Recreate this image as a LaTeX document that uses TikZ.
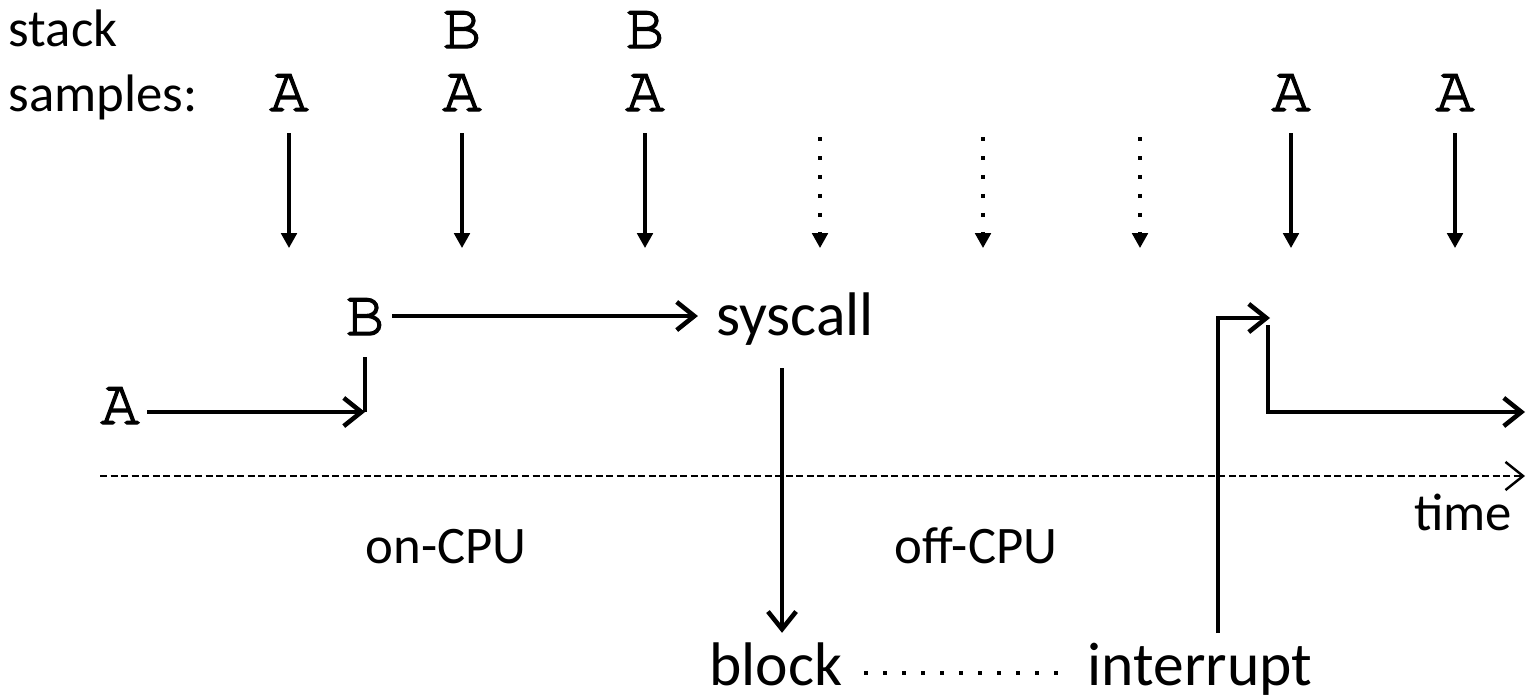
\documentclass[tikz,border=0pt]{standalone}
\usepackage{fontspec}
\setmainfont{Carlito}
\setmonofont[FakeBold=2.2]{TeX Gyre Cursor}
\usepackage{tikz}
\usetikzlibrary{arrows.meta}

\tikzset{
  lbl/.style={inner sep=0pt, font=\fontsize{15}{18}\selectfont},
  big/.style={inner xsep=6pt, inner ysep=2.5pt, font=\fontsize{17.5}{21}\selectfont},
  fn/.style={inner sep=0pt, font=\ttfamily\fontsize{18.5}{21}\selectfont},
  flow/.style={line width=1.3pt, -{Straight Barb[length=5pt,width=8pt]}},
  bar/.style={line width=1.3pt},
  sample/.style={line width=0.9pt, -{Triangle[length=4.2pt,width=4.4pt]}},
  nosample/.style={sample, dash pattern=on 1.2pt off 4.2pt},
  axis/.style={line width=0.7pt, dash pattern=on 2pt off 1pt, -{Straight Barb[length=5pt,width=8pt]}},
  wait/.style={line width=1.2pt, dash pattern=on 1.2pt off 4.2pt}
}

\begin{document}
\begin{tikzpicture}[x=0.01cm,y=-0.01cm]
  \useasboundingbox (0,0) rectangle (1528,699);

  % Stack samples
  \node[lbl, anchor=base west] (stack) at (8,46) {stack};
  \node[lbl, anchor=base west] (samples) at (8,111) {samples:};
  \foreach \x/\n in {289/1,462/2,645/3,1291/7,1455/8} {
    \node[fn, anchor=base] (a\n) at (\x,111) {A};
    \coordinate (t\n) at (\x,133);
    \coordinate (h\n) at (\x,248);
    \draw[sample] (t\n) -- (h\n);
  }
  \foreach \x/\n in {462/2,645/3} {
    \node[fn, anchor=base] (b\n) at (\x,48) {B};
  }
  % Missed samples (off-CPU)
  \foreach \x/\n in {820/4,983/5,1140/6} {
    \coordinate (t\n) at (\x,137);
    \coordinate (h\n) at (\x,248);
    \draw[nosample] (t\n) -- (h\n);
  }

  % Code path
  \node[fn, inner xsep=2pt, anchor=base] (fA) at (120,424) {A};
  \node[fn, inner xsep=2pt, anchor=base] (fB) at (365,335) {B};
  \node[big, inner xsep=5pt, anchor=base] (syscall) at (795,335) {syscall};
  \node[big, anchor=base] (block) at (776,685) {block};
  \node[big, anchor=base] (interrupt) at (1200,685) {interrupt};

  \coordinate (callB) at (365,412);
  \coordinate (underB) at (365,357);
  \draw[flow] (fA.east |- callB) -- (callB);
  \draw[bar] (callB) -- (underB);
  \draw[flow] (fB.east |- 0,316) -- (syscall.west |- 0,316);

  \coordinate (sleep) at (782,368);
  \draw[flow] (sleep) -- (sleep |- block.north);
  \draw[wait] (block.east |- 0,673) -- (interrupt.west |- 0,673);

  \coordinate (irq) at (1218,318);
  \coordinate (wake) at (1268,325);
  \coordinate (resume) at (1525,412);
  \draw[flow] (irq |- interrupt.north) -- (irq) -- ++(52,0);
  \draw[flow] (wake) |- (resume);

  % Time axis
  \coordinate (t0) at (100,476);
  \coordinate (tend) at (1525,476);
  \draw[axis] (t0) -- (tend);
  \node[lbl, anchor=base] (time) at (1463,530) {time};
  \node[lbl, anchor=base] (oncpu) at (446,563) {on-CPU};
  \node[lbl, anchor=base] (offcpu) at (976,563) {off-CPU};

\end{tikzpicture}
\end{document}
